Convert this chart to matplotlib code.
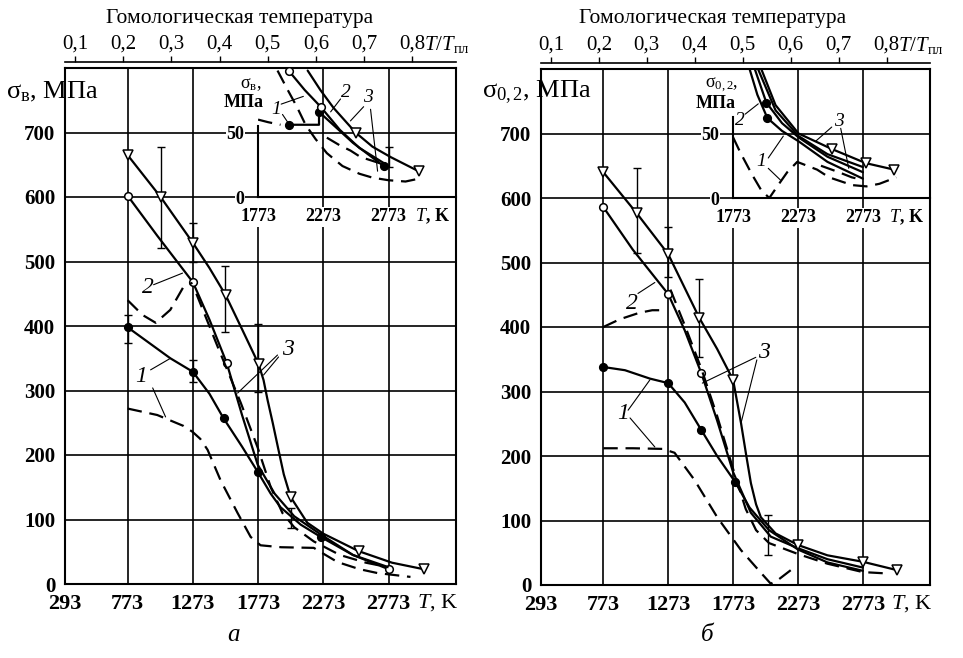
import matplotlib
matplotlib.use('Agg')
import matplotlib.pyplot as plt

plt.rcParams['font.family'] = ['Liberation Serif', 'DejaVu Serif']
plt.rcParams['mathtext.fontset'] = 'custom'
plt.rcParams['mathtext.rm'] = 'Liberation Serif'
plt.rcParams['mathtext.it'] = 'Liberation Serif:italic'
plt.rcParams['mathtext.bf'] = 'Liberation Serif:bold'

# axes and ticks
T_MELT = 3695
x_ticks = [293, 773, 1273, 1773, 2273, 2773]
y_ticks = [0, 100, 200, 300, 400, 500, 600, 700]
homol_ticks = [0.1, 0.2, 0.3, 0.4, 0.5, 0.6, 0.7, 0.8]
homol_labels = ['0,1', '0,2', '0,3', '0,4', '0,5', '0,6', '0,7', '0,8']
inset_x_ticks = [1773, 2273, 2773]
inset_y_ticks = [0, 50]

# ---- panel a: ultimate strength, MPa ----
a1_T = [773, 1100, 1273, 1400, 1508, 1650, 1770, 1870, 1945, 2100, 2253, 2500, 2773]
a1_v = [398, 350, 329, 295, 257, 213, 174, 140, 119, 92, 73, 45, 26]
a1_mk = [0, 2, 4, 6, 10]
a2_T = [773, 1000, 1273, 1400, 1532, 1650, 1770, 1900, 2050, 2252, 2500, 2773]
a2_v = [602, 540, 468, 410, 343, 262, 185, 140, 105, 77, 45, 23]
a2_mk = [0, 2, 4, 11]
a3_T = [773, 1026, 1273, 1400, 1524, 1650, 1777, 1815, 1846, 1885, 1924, 1970, 2022, 2150, 2273, 2543, 2800, 3041]
a3_v = [665, 600, 529, 490, 448, 395, 341, 316, 285, 250, 213, 170, 135, 95, 78, 51, 33, 23]
a3_mk = [0, 1, 2, 4, 6, 12, 15, 17]
a1d_T = [773, 1000, 1202, 1270, 1330, 1386, 1485, 1616, 1716, 1792, 1950, 2200, 2290, 2382, 2550, 2687, 2941]
a1d_v = [272, 262, 245, 236, 225, 208, 161, 110, 73, 60, 57, 56, 45, 34, 23, 17, 11]
a2d_T = [773, 888, 988, 1100, 1202, 1270]
a2d_v = [440, 417, 405, 425, 461, 467]
a3d_T = [1300, 1463, 1640, 1769, 1870, 1960, 2050, 2200, 2400, 2600, 2773]
a3d_v = [450, 368, 281, 212, 150, 110, 88, 66, 45, 33, 26]
a_err_T = [773, 1026, 1273, 1273, 1518, 1773, 2022]
a_err_lo = [374, 521, 313, 500, 391, 298, 87]
a_err_hi = [417, 678, 347, 560, 493, 403, 118]
# inset a (MPa)
ai1_T = [2007, 2240, 2240, 2500, 2735]
ai1_v = [56, 56, 66, 42, 24]
ai1_mk = [0, 2, 4]
ai2_T = [1990, 2007, 2130, 2252, 2400, 2550, 2773]
ai2_v = [100, 98, 83, 70, 52, 38, 24]
ai2_mk = [1, 3]
ai3_T = [2153, 2250, 2352, 2520, 2650, 2788, 3003]
ai3_v = [98, 83, 69, 50, 39, 31, 20]
ai3_mk = [3, 6]
aid1_T = [1773, 1850, 1945]
aid1_v = [60, 58, 56]
aid2_T = [1922, 2000, 2070, 2137, 2213, 2300, 2420, 2550, 2650, 2773, 2903, 2995]
aid2_v = [98, 83, 70, 56, 45, 34, 24, 18, 15, 13, 12, 14]
aid3_T = [2300, 2400, 2481, 2558, 2712]
aid3_v = [46, 40, 36, 31, 26]
ai_err_T = [2773]
ai_err_lo = [23]
ai_err_hi = [39]

# ---- panel b: yield strength, MPa ----
b1_T = [773, 940, 1132, 1273, 1400, 1529, 1650, 1788, 1900, 2050, 2273, 2500, 2773]
b1_v = [338, 333, 320, 313, 283, 240, 200, 160, 120, 85, 55, 35, 22]
b1_mk = [0, 3, 5, 7]
b2_T = [773, 1000, 1273, 1400, 1529, 1650, 1773, 1910, 2063, 2273, 2500, 2773]
b2_v = [586, 520, 451, 395, 328, 255, 175, 112, 75, 57, 40, 27]
b2_mk = [0, 2, 4]
b3_T = [773, 1032, 1273, 1513, 1650, 1773, 1834, 1875, 1910, 1950, 1987, 2100, 2273, 2500, 2773, 3037]
b3_v = [640, 576, 513, 414, 366, 318, 251, 200, 158, 125, 105, 80, 62, 46, 36, 23]
b3_mk = [0, 1, 2, 3, 5, 12, 14, 15]
b1d_T = [773, 1000, 1231, 1322, 1475, 1651, 1834, 1987, 2063, 2120, 2230]
b1d_v = [212, 212, 211, 205, 163, 105, 54, 19, 2, 8, 25]
b2d_T = [773, 900, 1050, 1150, 1231]
b2d_v = [400, 412, 422, 426, 426]
b3d_T = [1290, 1400, 1529, 1650, 1773, 1870, 1950, 2050, 2273, 2500, 2773, 2950]
b3d_v = [458, 403, 335, 262, 180, 118, 85, 65, 48, 33, 20, 18]
b_err_T = [1032, 1273, 1513, 2044]
b_err_lo = [514, 478, 353, 46]
b_err_hi = [646, 555, 475, 108]
# inset b (MPa)
bi1_T = [1900, 1960, 2037, 2150, 2277, 2500, 2773]
bi1_v = [100, 80, 62, 52, 44, 28, 15]
bi1_mk = [2]
bi2_T = [1940, 2029, 2150, 2277, 2500, 2773]
bi2_v = [100, 74, 58, 47, 32, 20]
bi2_mk = [1]
bi3_T = [1990, 2100, 2277, 2533, 2796, 3013]
bi3_v = [100, 72, 50, 38, 27, 22]
bi3_mk = [3, 4, 5]
bi4_T = [1965, 2100, 2277, 2500, 2773]
bi4_v = [100, 68, 48, 34, 24]
bid1_T = [1773, 1830, 1920, 1990, 2052, 2120, 2190, 2267, 2420, 2513, 2690, 2800, 2900, 3030]
bid1_v = [47, 35, 18, 6, 0, 10, 20, 28, 22, 16, 10, 9, 11, 16]
bid3_T = [2450, 2587, 2688, 2773]
bid3_v = [25, 20, 16, 14]

XMAX = 3290
LW = 1.6
DASH = (6.5, 3.5)


def curve(ax, T, v, dashed=False, mk=None, marker='o', filled=True, ms=5.5):
    kw = dict(color='black', lw=LW, solid_capstyle='round', zorder=4)
    if dashed:
        kw['dashes'] = DASH
    if mk is not None:
        kw.update(marker=marker, markevery=mk, markersize=ms,
                  markerfacecolor='black' if filled else 'white',
                  markeredgecolor='black', markeredgewidth=1.1)
    ax.plot(T, v, **kw)


def bars(ax, T, lo, hi):
    mid = [(l + h) / 2 for l, h in zip(lo, hi)]
    half = [(h - l) / 2 for l, h in zip(lo, hi)]
    ax.errorbar(T, mid, yerr=half, fmt='none', ecolor='black', elinewidth=1.0,
                capsize=3, capthick=1.0, zorder=3)


def tag(ax, text, pos, leaders, size=17):
    ax.text(pos[0], pos[1], text, fontsize=size, style='italic',
            ha='center', va='center', zorder=6)
    for start, end in leaders:
        ax.annotate('', xy=end, xytext=start,
                    arrowprops=dict(arrowstyle='-', lw=0.8, color='black',
                                    shrinkA=0, shrinkB=0))


def frame(ax):
    ax.set_xlim(293, XMAX)
    ax.set_ylim(0, 800)
    for s in ax.spines.values():
        s.set_linewidth(1.5)
    ax.vlines([773, 1273, 2273, 2773], 0, 800, color='black', lw=1.2, zorder=1)
    ax.vlines([1773], 0, 560, color='black', lw=1.2, zorder=1)
    ax.hlines(y_ticks[1:], 293, XMAX, color='black', lw=1.2, zorder=1)
    ax.set_xticks(x_ticks)
    ax.set_xticklabels([str(t) for t in x_ticks], fontsize=16, fontweight='bold')
    ax.set_yticks(y_ticks)
    ax.set_yticklabels([str(t) for t in y_ticks], fontsize=15, fontweight='bold')
    ax.tick_params(length=0, pad=7)
    ax.text(3150, -28, r'$T$, K', fontsize=16, ha='center', va='center')

    sec = ax.secondary_xaxis(1.0 + 6 / 516,
                             functions=(lambda t: t / T_MELT, lambda h: h * T_MELT))
    sec.set_xticks(homol_ticks)
    sec.set_xticklabels(homol_labels, fontsize=15)
    sec.tick_params(direction='out', length=4, width=1, pad=2)
    sec.spines['top'].set_linewidth(1.2)
    ax.text(2956 + 85, 1.045, r'$T/T_{\mathrm{пл}}$', fontsize=15,
            transform=ax.get_xaxis_transform(), ha='left', va='center')

    ins = ax.inset_axes([1773, 600, XMAX - 1773, 200], transform=ax.transData)
    ins.set_xlim(1773, XMAX)
    ins.set_ylim(0, 100)
    ins.patch.set_alpha(0)
    ins.spines['top'].set_visible(False)
    ins.spines['right'].set_visible(False)
    ins.spines['left'].set_linewidth(1.5)
    ins.spines['bottom'].set_linewidth(1.5)
    ins.set_xticks(inset_x_ticks)
    ins.set_xticklabels([str(t) for t in inset_x_ticks], fontsize=13, fontweight='bold')
    ins.set_yticks(inset_y_ticks)
    ins.set_yticklabels([str(t) for t in inset_y_ticks], fontsize=13, fontweight='bold')
    ins.tick_params(axis='x', length=0, pad=8)
    ins.tick_params(axis='y', length=0, pad=10)
    for lab in ins.get_xticklabels():
        lab.set_bbox(dict(facecolor='white', edgecolor='none', pad=1))
    for lab in ins.get_yticklabels():
        lab.set_bbox(dict(facecolor='white', edgecolor='none', pad=0.5))
    ins.text(3110, -15, r'$T$, K', fontsize=13, fontweight='bold', ha='center',
             va='center', bbox=dict(facecolor='white', edgecolor='none', pad=1))
    return ins


fig = plt.figure(figsize=(9.63, 6.58), dpi=100)
axA = fig.add_axes([65 / 963, 74 / 658, 391 / 963, 516 / 658])
axB = fig.add_axes([541 / 963, 73 / 658, 389 / 963, 516 / 658])

# panel a
insA = frame(axA)
insA.spines['left'].set_bounds(0, 55)
curve(axA, a1_T, a1_v, mk=a1_mk)
curve(axA, a2_T, a2_v, mk=a2_mk, filled=False)
curve(axA, a3_T, a3_v, mk=a3_mk, marker='v', filled=False, ms=6.5)
curve(axA, a1d_T, a1d_v, dashed=True)
curve(axA, a2d_T, a2d_v, dashed=True)
curve(axA, a3d_T, a3d_v, dashed=True)
bars(axA, a_err_T, a_err_lo, a_err_hi)
curve(insA, ai1_T, ai1_v, mk=ai1_mk)
curve(insA, ai2_T, ai2_v, mk=ai2_mk, filled=False)
curve(insA, ai3_T, ai3_v, mk=ai3_mk, marker='v', filled=False, ms=6.5)
curve(insA, aid1_T, aid1_v, dashed=True)
curve(insA, aid2_T, aid2_v, dashed=True)
curve(insA, aid3_T, aid3_v, dashed=True)
bars(insA, ai_err_T, ai_err_lo, ai_err_hi)
tag(axA, '1', (873, 322), [((949, 332), (1102, 350)), ((965, 304), (1064, 259))])
tag(axA, '2', (926, 459), [((972, 464), (1194, 482))])
tag(axA, '3', (2000, 363), [((1922, 355), (1616, 296)), ((1930, 352), (1815, 324))])
tag(insA, '1', (1915, 68), [((1960, 64), (2000, 58)), ((1950, 72), (2120, 78))], size=14)
tag(insA, '2', (2443, 81), [((2405, 76), (2329, 66))], size=14)
tag(insA, '3', (2612, 77), [((2582, 70), (2481, 59)), ((2635, 68), (2689, 20))], size=14)
axA.text(1715, 774, r'$\mathrm{σ}_{\mathrm{в}}$,', fontsize=13, ha='center', va='center')
axA.text(1660, 746, 'МПа', fontsize=13, fontweight='bold', ha='center', va='center')

# panel b
insB = frame(axB)
insB.spines['left'].set_bounds(0, 63)
curve(axB, b1_T, b1_v, mk=b1_mk)
curve(axB, b2_T, b2_v, mk=b2_mk, filled=False)
curve(axB, b3_T, b3_v, mk=b3_mk, marker='v', filled=False, ms=6.5)
curve(axB, b1d_T, b1d_v, dashed=True)
curve(axB, b2d_T, b2d_v, dashed=True)
curve(axB, b3d_T, b3d_v, dashed=True)
bars(axB, b_err_T, b_err_lo, b_err_hi)
curve(insB, bi1_T, bi1_v, mk=bi1_mk)
curve(insB, bi2_T, bi2_v, mk=bi2_mk)
curve(insB, bi3_T, bi3_v, mk=bi3_mk, marker='v', filled=False, ms=6.5)
curve(insB, bi4_T, bi4_v)
curve(insB, bid1_T, bid1_v, dashed=True)
curve(insB, bid3_T, bid3_v, dashed=True)
tag(axB, '2', (994, 437), [((1040, 452), (1170, 469))])
tag(axB, '1', (926, 266), [((964, 271), (1132, 318)), ((979, 259), (1170, 214))])
tag(axB, '3', (2010, 361), [((1948, 353), (1536, 313)), ((1956, 349), (1834, 251))])
tag(insB, '2', (1827, 60), [((1866, 65), (1967, 73))], size=14)
tag(insB, '1', (1990, 28), [((2044, 31), (2160, 48)), ((2044, 23), (2137, 14))], size=14)
tag(insB, '3', (2587, 59), [((2533, 55), (2409, 44)), ((2602, 54), (2664, 23))], size=14)
axB.text(1681, 774, r'$\mathrm{σ}_{0,2}$,', fontsize=13, ha='center', va='center')
axB.text(1636, 746, 'МПа', fontsize=13, fontweight='bold', ha='center', va='center')

# figure texts
fig.text(6 / 963, 1 - 92 / 658, r'$\mathrm{σ}_{\mathrm{в}}$, МПа', fontsize=19, ha='left', va='center')
fig.text(482 / 963, 1 - 92 / 658, r'$\mathrm{σ}_{0,2}$, МПа', fontsize=19, ha='left', va='center')
fig.text(240 / 963, 1 - 18 / 658, 'Гомологическая температура', fontsize=15.5, ha='center', va='center')
fig.text(713 / 963, 1 - 18 / 658, 'Гомологическая температура', fontsize=15.5, ha='center', va='center')
fig.text(233 / 963, 1 - 635 / 658, 'а', fontsize=18, style='italic', ha='center', va='center')
fig.text(707 / 963, 1 - 635 / 658, 'б', fontsize=18, style='italic', ha='center', va='center')

fig.savefig('out.png', dpi=100, facecolor='white')
